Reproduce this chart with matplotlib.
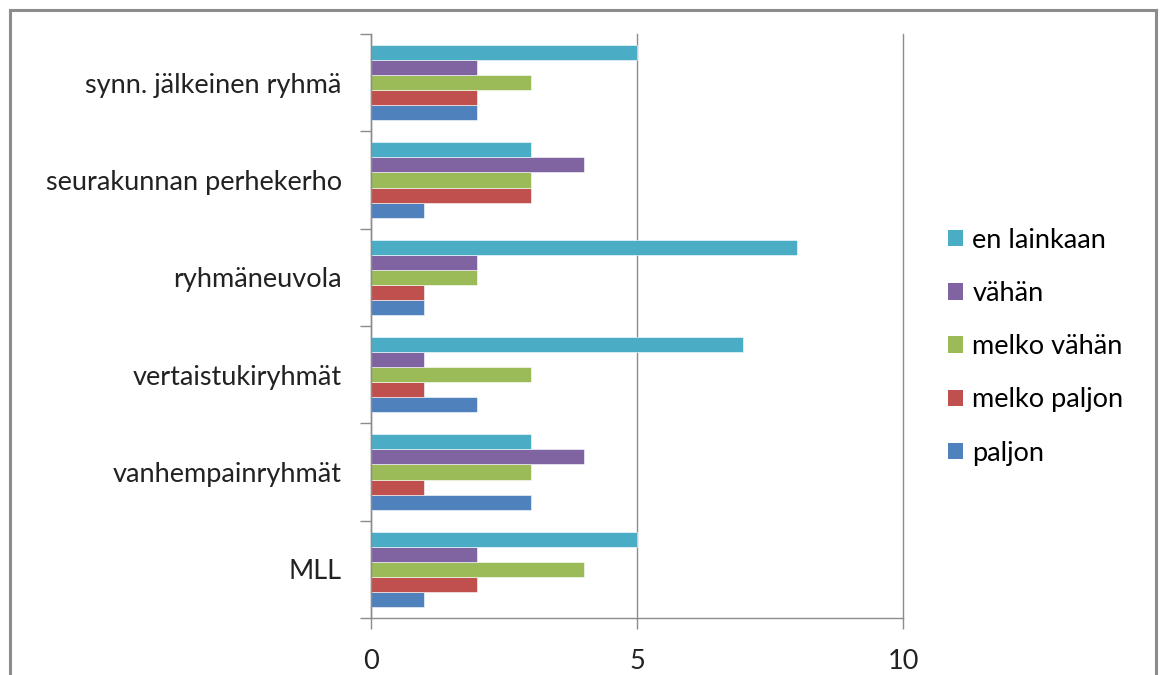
import numpy as np
import matplotlib.pyplot as plt
from matplotlib.patches import Patch
from matplotlib.lines import Line2D

# Data (categories from bottom to top)
kategoriat = ['MLL', 'vanhempainryhmät', 'vertaistukiryhmät', 'ryhmäneuvola',
              'seurakunnan perhekerho', 'synn. jälkeinen ryhmä']
sarjat = ['paljon', 'melko paljon', 'melko vähän', 'vähän', 'en lainkaan']
paljon = [1, 3, 2, 1, 1, 2]
melko_paljon = [2, 1, 1, 1, 3, 2]
melko_vahan = [4, 3, 3, 2, 3, 3]
vahan = [2, 4, 1, 2, 4, 2]
en_lainkaan = [5, 3, 7, 8, 3, 5]
arvot = [paljon, melko_paljon, melko_vahan, vahan, en_lainkaan]
x_ticks = [0, 5, 10]

varit = ['#4F81BD', '#C0504D', '#9BBB59', '#8064A2', '#4BACC6']
harmaa = '#8C8C8C'
fs = 19.5

plt.rcParams['font.family'] = ['Lato', 'DejaVu Sans']

fig = plt.figure(figsize=(11.63, 6.75), dpi=100)
ax = fig.add_axes([371 / 1163, 57 / 675, 532 / 1163, 584 / 675])

n = len(sarjat)
h = 0.155
y = np.arange(len(kategoriat))
for i, (nimi, vals) in enumerate(zip(sarjat, arvot)):
    offset = (i - (n - 1) / 2) * h
    ax.barh(y + offset, vals, height=h, color=varit[i], label=nimi,
            edgecolor='white', linewidth=0.4, zorder=3)

ax.set_xlim(0, 10)
ax.set_ylim(-0.5, len(kategoriat) - 0.5)
ax.set_xticks(x_ticks)
ax.set_xticklabels([str(t) for t in x_ticks])
ax.set_yticks(y)
ax.set_yticklabels(kategoriat)
ax.set_yticks(np.arange(-0.5, len(kategoriat), 1), minor=True)

ax.tick_params(axis='y', which='major', length=0, pad=21, labelsize=fs, labelcolor='#222222')
ax.tick_params(axis='y', which='minor', length=8, width=1, color=harmaa, direction='out')
ax.tick_params(axis='x', length=8, width=1, color=harmaa, pad=14.5, labelsize=fs, labelcolor='#222222')

ax.grid(axis='x', color=harmaa, linewidth=1, zorder=0)
for g in ax.get_xgridlines():
    g.set_clip_on(False)
for s in ['top', 'right']:
    ax.spines[s].set_visible(False)
for s in ['left', 'bottom']:
    ax.spines[s].set_color(harmaa)
    ax.spines[s].set_linewidth(1)
    ax.spines[s].set_zorder(4)

# Legend (reverse order, top = en lainkaan)
kahvat = [Patch(facecolor=varit[i], label=sarjat[i]) for i in reversed(range(n))]
fig.legend(handles=kahvat, loc='upper left', bbox_to_anchor=(937 / 1163, 1 - 217 / 675),
           frameon=False, fontsize=fs, labelspacing=1.04, handlelength=0.55,
           handleheight=0.55, handletextpad=0.35, borderaxespad=0)

# Outer chart border
x0, x1 = 10 / 1163, 1156 / 1163
yt = 1 - 10 / 675
for xs, ys in [([x0, x0], [0, yt]), ([x0, x1], [yt, yt]), ([x1, x1], [yt, 0])]:
    fig.add_artist(Line2D(xs, ys, color=harmaa, linewidth=2.2, transform=fig.transFigure))

fig.savefig('out.png', dpi=100, facecolor='white')
